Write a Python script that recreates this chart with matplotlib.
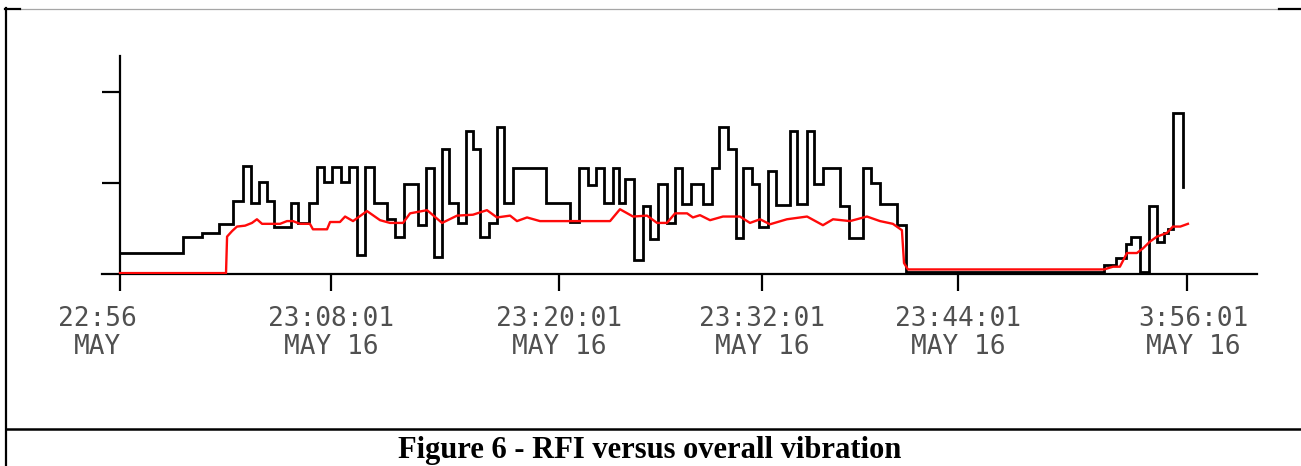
# -*- coding: utf-8 -*-
"""
Figure 6 - RFI versus overall vibration (scanned trend chart, one table cell).
Black = overall vibration (step trace), red = RFI.
"""
import matplotlib
matplotlib.use("Agg")
import matplotlib.pyplot as plt
from matplotlib.lines import Line2D
from matplotlib.transforms import ScaledTranslation

# time = minutes after 22:56, value in chart units (grid ticks at 1 and 2)
vib_t = [0, 3.58, 4.62, 5.62, 6.41, 6.98, 7.40, 7.88, 8.30, 8.72,
         9.66, 10.09, 10.71, 11.17, 11.55, 12.02, 12.49, 12.98, 13.40, 13.87,
         14.38, 15.11, 15.57, 16.08, 16.88, 17.30, 17.79, 18.21, 18.64, 19.15,
         19.58, 19.96, 20.38, 20.90, 21.32, 21.74, 22.26, 24.11, 25.47, 26.00,
         26.51, 26.94, 27.40, 27.89, 28.26, 28.58, 29.09, 29.62, 30.00, 30.47,
         30.94, 31.41, 31.79, 32.30, 33.02, 33.49, 33.92, 34.43, 34.87, 35.28,
         35.76, 36.19, 36.70, 37.13, 37.92, 38.34, 38.87, 39.28, 39.81, 40.75,
         41.26, 42.07, 42.49, 43.02, 43.96, 44.49, 55.70, 56.38, 56.94, 57.21,
         57.74, 58.26, 58.68, 59.09, 59.34, 59.62, 60.15]
vib_v = [0.23, 0.41, 0.45, 0.55, 0.80, 1.18, 0.78, 1.01, 0.80, 0.51,
         0.78, 0.56, 0.78, 1.17, 1.01, 1.17, 1.01, 1.17, 0.21, 1.17,
         0.78, 0.60, 0.41, 0.99, 0.54, 1.16, 0.19, 1.37, 0.78, 0.56,
         1.57, 1.37, 0.41, 0.56, 1.61, 0.78, 1.16, 0.78, 0.57, 1.16,
         0.98, 1.16, 0.78, 1.16, 0.78, 1.04, 0.15, 0.75, 0.38, 0.99,
         0.555, 1.16, 0.77, 0.99, 0.77, 1.16, 1.61, 1.37, 0.39, 1.16,
         0.99, 0.52, 1.13, 0.76, 1.57, 0.77, 1.57, 0.99, 1.16, 0.75,
         0.39, 1.16, 1.00, 0.77, 0.54, 0.02, 0.10, 0.18, 0.33, 0.41,
         0.02, 0.75, 0.355, 0.45, 0.49, 1.76, 0.95]

rfi_t = [0, 6.00, 6.06, 6.34, 6.62, 7.08, 7.47, 7.75, 8.04, 9.06,
         9.45, 9.79, 10.19, 10.75, 10.92, 11.72, 11.89, 12.45, 12.74, 13.19,
         13.98, 14.72, 15.28, 16.02, 16.42, 17.38, 18.23, 19.08, 19.98, 20.77,
         21.34, 22.08, 22.47, 23.04, 23.77, 27.74, 28.30, 29.04, 29.83, 30.40,
         30.96, 31.42, 32.10, 32.43, 32.83, 33.40, 34.13, 35.09, 35.66, 36.23,
         36.79, 37.75, 38.89, 39.79, 40.36, 41.32, 42.28, 43.02, 43.75, 44.26,
         44.38, 44.60, 55.70, 56.21, 56.60, 57.00, 57.56, 57.90, 58.30, 58.70,
         59.26, 59.60, 60.02, 60.45]
rfi_v = [0.01, 0.01, 0.41, 0.47, 0.52, 0.53, 0.56, 0.60, 0.55, 0.55,
         0.58, 0.58, 0.55, 0.55, 0.49, 0.49, 0.57, 0.57, 0.63, 0.58,
         0.69, 0.59, 0.56, 0.56, 0.665, 0.70, 0.56, 0.64, 0.65, 0.70,
         0.62, 0.64, 0.58, 0.62, 0.58, 0.58, 0.71, 0.63, 0.64, 0.56,
         0.56, 0.665, 0.665, 0.62, 0.645, 0.59, 0.63, 0.63, 0.56, 0.60,
         0.545, 0.60, 0.63, 0.535, 0.60, 0.58, 0.63, 0.58, 0.55, 0.48,
         0.12, 0.05, 0.05, 0.08, 0.08, 0.23, 0.23, 0.28, 0.355, 0.41,
         0.45, 0.52, 0.52, 0.55]

tick_pos = [0, 11.94, 24.85, 36.34, 47.43, 60.40]
tick_lab = ["22:56\nMAY", "23:08:01\nMAY 16", "23:20:01\nMAY 16",
            "23:32:01\nMAY 16", "23:44:01\nMAY 16", "3:56:01\nMAY 16"]
ytick_pos = [1, 2]
caption = "Figure 6 - RFI versus overall vibration"

W, H = 1301, 466
fig = plt.figure(figsize=(W / 100, H / 100), dpi=100, facecolor="white")


def fx(px):
    return px / W


def fy(py):
    return 1 - py / H


# plot area (pixel box of the scanned chart)
ax = fig.add_axes([fx(102), fy(274), fx(1257) - fx(102), fy(56) - fy(274)])
ax.set_xlim(-1.02, 64.36)
ax.set_ylim(0, 2.39)
ax.patch.set_alpha(0)

ax.plot(vib_t, vib_v, drawstyle="steps-post", color="black", lw=2.0,
        solid_joinstyle="miter", zorder=2)
ax.plot(rfi_t, rfi_v, color="#ff0a0a", lw=1.7, zorder=3)

for s in ("top", "right"):
    ax.spines[s].set_visible(False)
ax.spines["left"].set_position(("data", 0))
ax.spines["left"].set_linewidth(1.6)
ax.spines["bottom"].set_linewidth(1.6)

ax.set_yticks(ytick_pos)
ax.set_yticklabels([])
ax.tick_params(axis="y", direction="out", length=13, width=1.6)

ax.set_xticks(tick_pos, tick_lab)
ax.tick_params(axis="x", direction="out", length=12, width=1.6, pad=11,
               labelsize=18.8, labelcolor="#505050")
labels = ax.get_xticklabels()
for lab in labels:
    lab.set_fontfamily("DejaVu Sans Mono")
    lab.set_linespacing(1.12)
# first label sits left of its tick, last one a bit right (as in the scan)
labels[0].set_transform(labels[0].get_transform()
                        + ScaledTranslation(-0.23, 0, fig.dpi_scale_trans))
labels[-1].set_transform(labels[-1].get_transform()
                         + ScaledTranslation(0.06, 0, fig.dpi_scale_trans))

# table cell borders
def hline(x0, x1, y, **kw):
    fig.add_artist(Line2D([fx(x0), fx(x1)], [fy(y), fy(y)],
                          transform=fig.transFigure, **kw))


hline(20, 1279, 8.5, color="#a6a6a6", lw=0.9)
hline(5, 20, 8.5, color="black", lw=1.6)
hline(1279, 1301, 8.5, color="black", lw=1.6)
hline(6, 1301, 429, color="black", lw=1.8)
fig.add_artist(Line2D([fx(6), fx(6)], [fy(8), fy(466)],
                      transform=fig.transFigure, color="black", lw=1.6))

fig.text(fx(650), fy(458), caption, ha="center", va="baseline",
         fontfamily="Liberation Serif", fontweight="bold", fontsize=22)

fig.savefig("out.png", dpi=100, facecolor="white")
